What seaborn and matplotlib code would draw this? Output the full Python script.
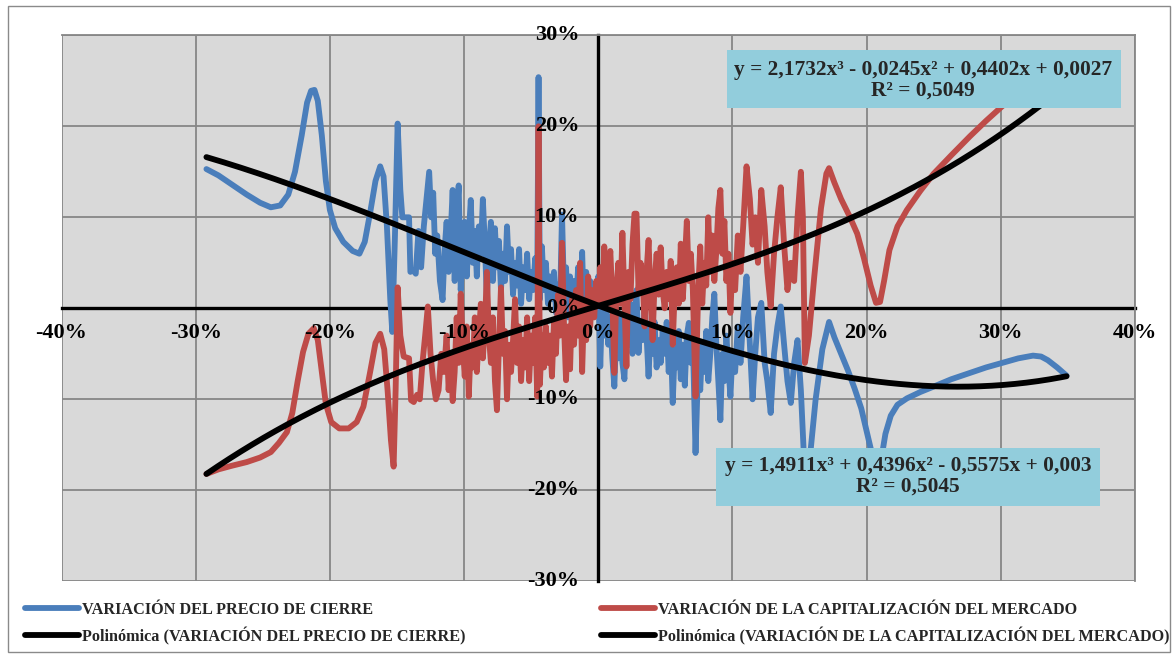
import numpy as np
import pandas as pd
import matplotlib
matplotlib.use("Agg")
import matplotlib.pyplot as plt
import seaborn as sns
from matplotlib.transforms import offset_copy
from matplotlib.lines import Line2D
from matplotlib.patches import Rectangle

# ---------------- data (percent) ----------------
blue_x = [-29.2, -28.3, -27.3, -26.2, -25.2, -24.4, -23.7, -23.1, -22.6, -22.1,
          -21.7, -21.4, -21.15, -20.9, -20.6, -20.3, -20.0, -19.6, -19.0, -18.3,
          -17.8, -17.4, -17.0, -16.6, -16.25, -16.0, -15.75, -15.5, -15.35, -15.15,
          -14.95, -14.75, -14.6, -14.1, -14.0, -13.8, -13.6, -13.4, -13.2, -13.0,
          -12.8, -12.6, -12.45, -12.3, -12.15, -12.0, -11.8, -11.6, -11.45, -11.3,
          -11.15, -11.0, -10.85, -10.7, -10.55, -10.4, -10.25, -10.1, -9.95, -9.8,
          -9.65, -9.5, -9.35, -9.2, -9.05, -8.9, -8.75, -8.6, -8.45, -8.3,
          -8.15, -8.0, -7.85, -7.7, -7.55, -7.4, -7.25, -7.1, -6.95, -6.8,
          -6.65, -6.5, -6.35, -6.2, -6.05, -5.9, -5.75, -5.6, -5.45, -5.3,
          -5.15, -5.0, -4.85, -4.7, -4.55, -4.45, -4.35, -4.2, -4.05, -3.9,
          -3.75, -3.6, -3.45, -3.3, -3.15, -3.0, -2.85, -2.7, -2.55, -2.4,
          -2.25, -2.1, -1.95, -1.8, -1.65, -1.5, -1.35, -1.2, -1.05, -0.9,
          -0.75, -0.6, -0.45, -0.3, -0.15, 0.0, 0.15, 0.3, 0.45, 0.6,
          0.75, 0.9, 1.05, 1.2, 1.35, 1.5, 1.65, 1.8, 1.95, 2.1,
          2.25, 2.4, 2.55, 2.7, 2.85, 3.0, 3.15, 3.3, 3.45, 3.6,
          3.75, 3.9, 4.05, 4.2, 4.35, 4.5, 4.65, 4.8, 4.95, 5.1,
          5.25, 5.4, 5.55, 5.7, 5.85, 6.0, 6.15, 6.3, 6.45, 6.6,
          6.75, 6.9, 7.05, 7.25, 7.45, 7.6, 7.75, 7.9, 8.05, 8.2,
          8.35, 8.5, 8.65, 8.8, 8.95, 9.1, 9.25, 9.4, 9.55, 9.7,
          9.85, 10.0, 10.2, 10.4, 10.6, 10.8, 11.05, 11.3, 11.5, 11.7,
          11.9, 12.15, 12.4, 12.6, 12.85, 13.1, 13.35, 13.6, 13.85, 14.1,
          14.35, 14.6, 14.85, 15.1, 15.35, 15.55, 15.8, 16.2, 16.7, 17.2,
          17.6, 18.1, 18.6, 19.1, 19.6, 20.0, 20.4, 20.8, 21.1, 21.4,
          21.8, 22.3, 23.0, 24.0, 25.0, 26.3, 27.7, 28.9, 30.1, 31.3,
          32.4, 33.0, 33.5, 34.2, 34.9]
blue_y = [15.3, 14.6, 13.6, 12.5, 11.6, 11.1, 11.3, 12.5, 15.0, 19.0,
          22.6, 23.9, 24.0, 22.8, 19.0, 14.0, 10.8, 8.8, 7.3, 6.3,
          6.0, 7.3, 10.5, 14.0, 15.6, 14.5, 9.0, 1.0, -2.6, 8.0,
          20.3, 13.0, 10.0, 10.0, 4.0, 4.2, 3.8, 8.5, 4.5, 9.0,
          12.0, 15.0, 10.0, 12.7, 6.0, 8.0, 3.0, 0.9, 6.5, 9.5,
          4.0, 8.0, 13.0, 3.0, 10.0, 13.5, 2.0, 6.0, 9.5, 3.5,
          8.0, 11.9, 5.0, 8.5, 3.5, 9.0, 6.0, 12.0, 7.0, 1.0,
          6.5, 9.5, 3.0, 8.8, 4.5, 7.4, 2.0, 6.0, 3.0, 9.0,
          4.0, 6.5, 1.5, 5.0, 2.5, 6.5, 0.5, 4.5, 2.0, 6.0,
          1.0, 4.0, 2.0, 5.5, 2.0, 25.4, 1.0, 6.8, 2.0, 5.0,
          0.5, 3.5, 1.0, 4.0, -0.5, 2.6, 0.5, 10.3, 1.5, 4.5,
          -1.0, 3.5, 0.0, 3.0, 0.5, 4.5, -1.0, 6.2, -1.5, 4.0,
          1.0, 3.0, -0.5, 2.5, 0.5, 3.5, -6.4, 1.0, -3.0, 0.5,
          -4.0, -1.0, -5.5, -8.6, -2.0, -5.5, -1.0, -6.0, -7.8, -1.0,
          -4.0, 0.5, -5.0, -2.0, 2.0, -4.9, -1.5, -3.5, 0.0, -3.0,
          -7.5, -2.0, -5.0, -1.5, -6.5, -3.5, -6.0, -2.5, -5.0, -1.5,
          -7.0, -3.0, -10.4, -4.5, -6.5, -2.5, -7.8, -4.0, -8.5, -3.0,
          -1.6, -6.0, -3.5, -15.9, -6.0, -9.0, -4.0, -7.0, -2.5, -8.0,
          -5.0, -1.0, 1.6, -4.0, -8.0, -12.3, -5.0, -8.0, -3.0, -6.5,
          -9.7, -5.0, -7.0, -2.0, -6.0, -1.0, 3.5, -4.0, -10.0, -5.0,
          -1.0, 0.6, -6.0, -8.0, -11.5, -5.0, -2.0, 0.2, -4.0, -8.0,
          -10.4, -6.0, -3.5, -9.0, -17.0, -19.0, -16.0, -10.0, -4.5, -1.5,
          -3.2, -5.0, -6.8, -8.8, -11.0, -13.5, -16.0, -19.0, -16.5, -13.8,
          -11.8, -10.6, -9.9, -9.2, -8.6, -7.8, -7.1, -6.5, -6.0, -5.5,
          -5.2, -5.3, -5.7, -6.5, -7.4]

red_x = [-29.2, -28.3, -27.3, -26.2, -25.2, -24.4, -23.8, -23.2, -22.8, -22.4,
         -22.0, -21.6, -21.2, -20.9, -20.6, -20.3, -19.9, -19.3, -18.6, -18.0,
         -17.5, -17.0, -16.6, -16.25, -15.95, -15.7, -15.45, -15.25, -15.1, -14.95,
         -14.75, -14.5, -14.1, -13.95, -13.75, -13.5, -13.3, -13.1, -12.9, -12.7,
         -12.5, -12.3, -12.1, -11.9, -11.7, -11.5, -11.3, -11.15, -11.0, -10.85,
         -10.7, -10.55, -10.4, -10.25, -10.1, -9.95, -9.8, -9.65, -9.5, -9.35,
         -9.2, -9.05, -8.9, -8.75, -8.6, -8.45, -8.3, -8.15, -8.0, -7.85,
         -7.7, -7.55, -7.4, -7.25, -7.1, -6.95, -6.8, -6.65, -6.5, -6.35,
         -6.2, -6.05, -5.9, -5.75, -5.6, -5.45, -5.3, -5.15, -5.0, -4.85,
         -4.7, -4.55, -4.45, -4.35, -4.2, -4.05, -3.9, -3.75, -3.6, -3.45,
         -3.3, -3.15, -3.0, -2.85, -2.7, -2.55, -2.4, -2.25, -2.1, -1.95,
         -1.8, -1.65, -1.5, -1.35, -1.2, -1.05, -0.9, -0.75, -0.6, -0.45,
         -0.3, -0.15, 0.0, 0.15, 0.3, 0.45, 0.6, 0.75, 0.9, 1.05,
         1.2, 1.35, 1.5, 1.65, 1.8, 1.95, 2.1, 2.25, 2.4, 2.55,
         2.7, 2.85, 3.0, 3.15, 3.3, 3.45, 3.6, 3.75, 3.9, 4.05,
         4.2, 4.35, 4.5, 4.65, 4.8, 4.95, 5.1, 5.25, 5.4, 5.55,
         5.7, 5.85, 6.0, 6.15, 6.3, 6.45, 6.6, 6.75, 6.9, 7.05,
         7.25, 7.45, 7.6, 7.75, 7.9, 8.05, 8.2, 8.35, 8.5, 8.65,
         8.8, 8.95, 9.1, 9.25, 9.4, 9.55, 9.7, 9.85, 10.0, 10.2,
         10.4, 10.6, 10.8, 11.05, 11.3, 11.5, 11.7, 11.9, 12.15, 12.4,
         12.6, 12.85, 13.1, 13.35, 13.6, 13.85, 14.1, 14.35, 14.6, 14.85,
         15.1, 15.25, 15.4, 15.7, 16.1, 16.6, 17.0, 17.2, 17.6, 18.1,
         18.7, 19.3, 19.8, 20.3, 20.7, 21.0, 21.3, 21.7, 22.3, 23.0,
         24.0, 25.0, 26.3, 27.7, 28.9, 30.1, 31.3, 32.4, 33.5, 34.2,
         34.9]
red_y = [-18.2, -17.7, -17.3, -16.9, -16.4, -15.8, -14.8, -13.6, -11.5, -8.0,
         -4.8, -2.8, -2.2, -3.5, -7.0, -10.5, -12.5, -13.2, -13.2, -12.5,
         -10.8, -7.0, -3.8, -2.8, -4.5, -9.0, -14.5, -17.4, -9.0, 2.3,
         -3.0, -5.3, -5.5, -10.1, -10.3, -9.5, -10.0, -6.0, -3.0, 0.2,
         -5.0, -8.0, -10.0, -9.0, -5.0, -7.0, -3.0, -9.0, -5.0, -10.2,
         -7.0, -1.0, -6.0, 1.6, -4.0, -7.5, -2.0, -9.7, -4.0, -6.5,
         -1.0, -7.0, -3.0, 0.5, -5.5, -2.0, 4.0, -3.0, -6.0, -1.0,
         -8.0, -11.2, -4.0, 2.3, -5.0, -2.5, -10.0, -4.0, -7.0, -3.5,
         1.0, -6.0, -2.0, -8.0, -3.5, -6.5, -1.0, -8.0, -3.0, -6.0,
         -1.0, -9.7, 20.0, -8.4, -3.0, -6.5, -2.0, -6.0, -3.0, -7.5,
         -1.5, -5.0, 1.5, -3.0, 7.2, -2.0, -7.9, -2.0, -6.7, 1.0,
         -4.0, 2.0, -3.0, 5.0, -7.0, 0.5, -3.5, 3.5, -2.0, 2.0,
         -1.0, 3.0, 0.5, 4.5, 1.0, 6.8, 0.0, 3.5, 6.3, 1.0,
         -7.1, 2.0, 5.0, 0.5, 8.3, 1.0, -6.4, 4.0, 1.0, 7.0,
         10.4, 10.4, 2.0, 5.0, 3.8, -2.0, 4.0, 7.5, 1.0, -3.5,
         3.0, 6.0, 1.5, 6.7, 2.0, 0.0, 4.0, 1.0, 5.2, -4.0,
         2.0, 4.5, 0.5, 7.1, 1.0, 5.0, 9.6, 3.0, 6.0, 2.0,
         -9.7, 2.0, 6.8, 0.5, 5.0, 2.5, 10.0, 4.0, 8.0, 3.0,
         6.3, 11.0, 13.0, 6.0, 9.6, 3.0, 6.0, -0.5, 5.0, 2.0,
         8.0, 4.0, 9.0, 15.6, 12.0, 7.0, 10.0, 5.0, 13.0, 9.0,
         4.0, 0.2, 6.0, 10.0, 13.3, 7.0, 2.0, 5.0, 3.0, 10.0,
         15.0, 10.0, -6.0, -3.0, 3.5, 11.0, 14.8, 15.4, 13.8, 12.0,
         10.2, 8.2, 5.5, 2.5, 0.6, 0.7, 3.0, 6.4, 9.0, 10.8,
         12.9, 14.8, 16.8, 18.9, 20.6, 22.2, 23.7, 24.8, 25.3, 25.2,
         25.0]

assert len(blue_x) == len(blue_y) and len(red_x) == len(red_y)

# polynomial trend coefficients shown on the chart (x and y as fractions)
blue_coef = [1.4911, 0.4396, -0.5575, 0.003]
red_coef = [2.1732, -0.0245, 0.4402, 0.0027]
blue_eq = "y = 1,4911x³ + 0,4396x² - 0,5575x + 0,003\nR² = 0,5045"
red_eq = "y = 2,1732x³ - 0,0245x² + 0,4402x + 0,0027\nR² = 0,5049"

x_ticks = [-40, -30, -20, -10, 0, 10, 20, 30, 40]
y_ticks = [-30, -20, -10, 0, 10, 20, 30]

names = ["VARIACIÓN DEL PRECIO DE CIERRE",
         "Polinómica (VARIACIÓN DEL PRECIO DE CIERRE)",
         "VARIACIÓN DE LA CAPITALIZACIÓN DEL MERCADO",
         "Polinómica (VARIACIÓN DE LA CAPITALIZACIÓN DEL MERCADO)"]

BLUE = "#4a7ebb"
RED = "#be4b48"
BLACK = "#000000"
GRID = "#878787"
BG = "#d9d9d9"
BOX = "#92cddc"
LW = 4.2

# ---------------- style ----------------
sns.set_theme(style="white")
plt.rcParams['font.family'] = ['Liberation Serif', 'DejaVu Serif']
plt.rcParams['font.weight'] = 'bold'

W, H = 1176, 655
fig = plt.figure(figsize=(W / 100, H / 100), dpi=100)
fig.patch.set_facecolor("white")


def fx(px):
    return px / W


def fy(py):
    return 1 - py / H


ax = fig.add_axes([fx(61.5), fy(581.3), fx(1135) - fx(61.5), fy(35.3) - fy(581.3)])
ax.set_facecolor(BG)
ax.set_xlim(x_ticks[0], x_ticks[-1])
ax.set_ylim(y_ticks[0], y_ticks[-1])
ax.set_xticks(x_ticks)
ax.set_yticks(y_ticks)
ax.tick_params(length=0, labelbottom=False, labelleft=False)
ax.grid(True, color=GRID, lw=1.3)
ax.set_axisbelow(True)
for s in ["top", "right"]:
    ax.spines[s].set_color(GRID)
    ax.spines[s].set_linewidth(1.3)
ax.spines["left"].set_position(("data", 0))
ax.spines["bottom"].set_position(("data", 0))
for s in ["left", "bottom"]:
    ax.spines[s].set_color("black")
    ax.spines[s].set_linewidth(2.4)
    ax.spines[s].set_zorder(1.7)

df_b = pd.DataFrame({"x": blue_x, "y": blue_y})
df_r = pd.DataFrame({"x": red_x, "y": red_y})
sns.lineplot(data=df_b, x="x", y="y", sort=False, estimator=None, color=BLUE, lw=LW,
             ax=ax, zorder=2, solid_joinstyle="round", solid_capstyle="round", legend=False)
sns.lineplot(data=df_r, x="x", y="y", sort=False, estimator=None, color=RED, lw=LW,
             ax=ax, zorder=2.1, solid_joinstyle="round", solid_capstyle="round", legend=False)

xs_b = np.linspace(min(blue_x), max(blue_x), 300)
xs_r = np.linspace(min(red_x), max(red_x), 300)
trend_b = pd.DataFrame({"x": xs_b, "y": np.polyval(blue_coef, xs_b / 100) * 100})
trend_r = pd.DataFrame({"x": xs_r, "y": np.polyval(red_coef, xs_r / 100) * 100})
sns.lineplot(data=trend_b, x="x", y="y", sort=False, estimator=None, color=BLACK, lw=LW,
             ax=ax, zorder=3, solid_capstyle="round", legend=False)
sns.lineplot(data=trend_r, x="x", y="y", sort=False, estimator=None, color=BLACK, lw=LW,
             ax=ax, zorder=3, solid_capstyle="round", legend=False)
ax.set_xlabel("")
ax.set_ylabel("")

# tick labels next to the axes through the origin
ty = offset_copy(ax.transData, fig=fig, x=-19, y=0, units="dots")
for v in y_ticks:
    ax.text(0, v, f"{v}%", transform=ty, ha="right", va="center", fontsize=16,
            fontweight="bold", color="black", zorder=6)
tx = offset_copy(ax.transData, fig=fig, x=0, y=-25, units="dots")
for v in x_ticks:
    ax.text(v, 0, f"{v}%", transform=tx, ha="center", va="center", fontsize=16,
            fontweight="bold", color="black", zorder=6)

# equation boxes
fig.add_artist(Rectangle((fx(727), fy(108)), fx(1121) - fx(727), fy(50) - fy(108),
                         transform=fig.transFigure, facecolor=BOX, edgecolor="none", zorder=10))
fig.text(fx(923), fy(80.5), red_eq, ha="center", va="center", fontsize=15.4, fontweight="bold",
         linespacing=1.02, zorder=11)
fig.add_artist(Rectangle((fx(716), fy(506)), fx(1100) - fx(716), fy(448) - fy(506),
                         transform=fig.transFigure, facecolor=BOX, edgecolor="none", zorder=10))
fig.text(fx(908), fy(476.5), blue_eq, ha="center", va="center", fontsize=15.4, fontweight="bold",
         linespacing=1.02, zorder=11)

# legend (two columns)
prop = {"family": ["Liberation Serif", "DejaVu Serif"], "weight": "bold", "size": 11.7}
h1 = [Line2D([], [], color=BLUE, lw=LW), Line2D([], [], color=BLACK, lw=LW)]
h2 = [Line2D([], [], color=RED, lw=LW), Line2D([], [], color=BLACK, lw=LW)]
fig.legend(h1, names[:2], loc="upper left", bbox_to_anchor=(fx(25), fy(602)),
           frameon=False, prop=prop, handlelength=3.3, handletextpad=0.2,
           labelspacing=0.55, borderpad=0, borderaxespad=0)
fig.legend(h2, names[2:], loc="upper left", bbox_to_anchor=(fx(601), fy(602)),
           frameon=False, prop=prop, handlelength=3.3, handletextpad=0.2,
           labelspacing=0.55, borderpad=0, borderaxespad=0)

# chart-area border
fig.add_artist(Rectangle((fx(7.5), fy(652)), fx(1170) - fx(7.5), fy(6) - fy(652),
                         transform=fig.transFigure, facecolor="none", edgecolor="#8a8a8a",
                         lw=1.0, zorder=0))

fig.savefig("out.png", dpi=100, facecolor="white")
